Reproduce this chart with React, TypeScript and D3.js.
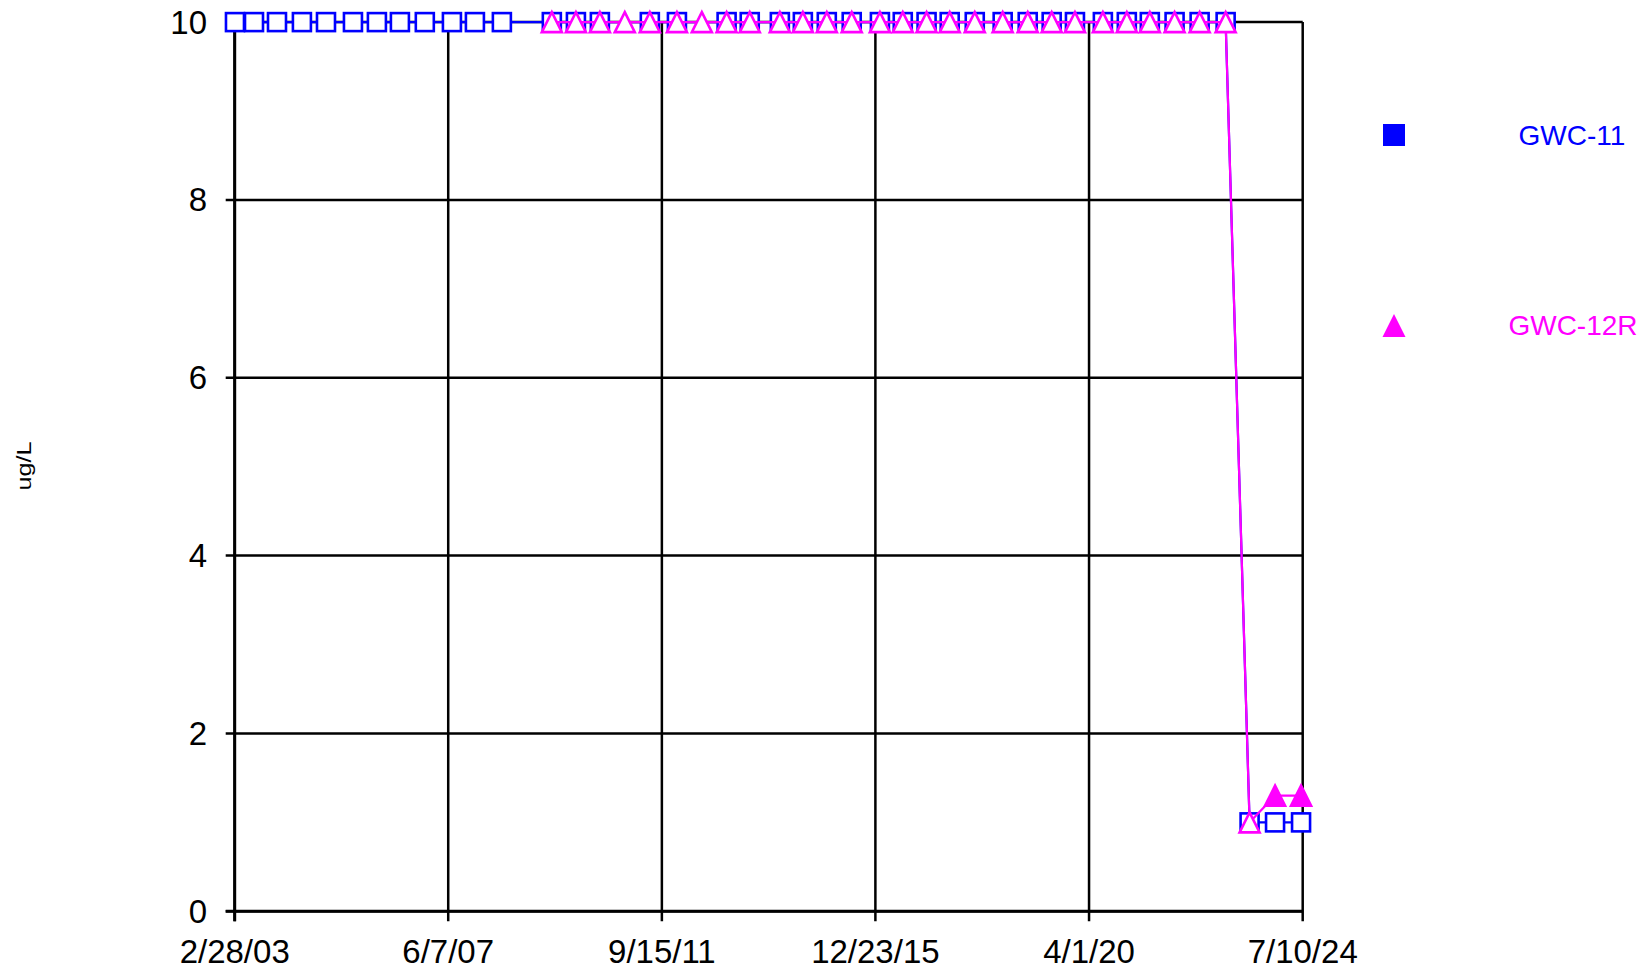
import React from 'react';
import * as d3 from 'd3';

// sampling dates and results (ug/L)
const gwc11Dates = [
  '2003-03-02', '2003-07-19', '2004-01-03', '2004-07-03', '2004-12-26', '2005-07-11',
  '2006-01-02', '2006-06-19', '2006-12-18', '2007-07-04', '2007-12-19', '2008-07-03',
  '2009-07-03', '2009-12-26', '2010-06-19', '2011-06-19', '2012-01-03', '2012-12-31',
  '2013-06-18', '2014-01-24', '2014-07-11', '2015-01-02', '2015-07-03', '2016-01-25',
  '2016-07-10', '2016-12-31', '2017-06-18', '2017-12-18', '2018-07-10', '2019-01-09',
  '2019-07-03', '2019-12-20', '2020-07-11', '2021-01-02', '2021-06-19', '2021-12-17',
  '2022-06-18', '2022-12-25', '2023-06-18', '2023-12-21', '2024-06-28',
];
const gwc11Values = [
  10, 10, 10, 10, 10, 10, 10, 10, 10, 10, 10, 10,
  10, 10, 10, 10, 10, 10, 10, 10, 10, 10, 10, 10,
  10, 10, 10, 10, 10, 10, 10, 10, 10, 10, 10, 10,
  10, 10, 1, 1, 1,
];
const gwc11Detected = gwc11Values.map(() => false);

const gwc12rDates = [
  '2009-07-03', '2009-12-26', '2010-06-19', '2010-12-18', '2011-06-19', '2012-01-03',
  '2012-07-03', '2012-12-31', '2013-06-18', '2014-01-24', '2014-07-11', '2015-01-02',
  '2015-07-03', '2016-01-25', '2016-07-10', '2016-12-31', '2017-06-18', '2017-12-18',
  '2018-07-10', '2019-01-09', '2019-07-03', '2019-12-20', '2020-07-11', '2021-01-02',
  '2021-06-19', '2021-12-17', '2022-06-18', '2022-12-25', '2023-06-18', '2023-12-21',
  '2024-06-28',
];
const gwc12rValues = [
  10, 10, 10, 10, 10, 10, 10, 10, 10, 10, 10, 10, 10, 10, 10, 10,
  10, 10, 10, 10, 10, 10, 10, 10, 10, 10, 10, 10, 1, 1.3, 1.3,
];
const gwc12rDetected = [
  false, false, false, false, false, false, false, false, false, false, false,
  false, false, false, false, false, false, false, false, false, false, false,
  false, false, false, false, false, false, false, true, true,
];

const xTickDates = ['2003-02-28', '2007-06-07', '2011-09-15', '2015-12-23', '2020-04-01', '2024-07-10'];
const xTickLabels = ['2/28/03', '6/7/07', '9/15/11', '12/23/15', '4/1/20', '7/10/24'];
const yTicks = [0, 2, 4, 6, 8, 10];

const W = 1650, H = 973;
const left = 234.7, right = 1302.7, top = 22.1, bottom = 911.3;
const FONT = '"Liberation Sans", Arial, sans-serif';
const BLUE = '#0000ff';
const MAGENTA = '#ff00ff';

const parse = d3.utcParse('%Y-%m-%d');

const x = d3.scaleUtc()
  .domain([parse(xTickDates[0])!, parse(xTickDates[xTickDates.length - 1])!])
  .range([left, right]);
const y = d3.scaleLinear().domain([0, 10]).range([bottom, top]);

const tri = (cx: number, cy: number, r: number) =>
  `M${cx},${cy - r}L${cx + r},${cy + r}L${cx - r},${cy + r}Z`;

function Series(props: { dates: string[]; values: number[]; detected: boolean[]; color: string; shape: 'square' | 'triangle' }) {
  const pts = props.dates.map((d, i) => ({ x: x(parse(d)!), y: y(props.values[i]), det: props.detected[i] }));
  const line = d3.line<{ x: number; y: number }>().x(p => p.x).y(p => p.y);
  return (
    <g>
      <path d={line(pts) || ''} fill="none" stroke={props.color} strokeWidth={2.2} />
      {pts.map((p, i) =>
        props.shape === 'square' ? (
          <rect key={i} x={p.x - 9} y={p.y - 9} width={18} height={18}
            fill={p.det ? props.color : '#fff'} stroke={props.color} strokeWidth={2.6} />
        ) : (
          <path key={i} d={tri(p.x, p.y, 10)}
            fill={p.det ? props.color : '#fff'} stroke={props.color} strokeWidth={2.6} strokeLinejoin="miter" />
        )
      )}
    </g>
  );
}

export default function App() {
  const xt = xTickDates.map(d => x(parse(d)!));
  return (
    <svg width={W} height={H} style={{ position: 'absolute', left: 0, top: 0, background: '#fff' }}
      fontFamily={FONT}>
      <rect width={W} height={H} fill="#fff" />
      {/* grid */}
      {yTicks.map(t => (
        <line key={'gy' + t} x1={left - 9} x2={right} y1={y(t)} y2={y(t)} stroke="#000" strokeWidth={2.5} />
      ))}
      {xt.map((px, i) => (
        <line key={'gx' + i} x1={px} x2={px} y1={top} y2={bottom + 10} stroke="#000" strokeWidth={2.5} />
      ))}
      <line x1={left} x2={left} y1={top} y2={bottom + 10} stroke="#000" strokeWidth={3} />
      <line x1={left - 9} x2={right} y1={bottom} y2={bottom} stroke="#000" strokeWidth={3} />

      {/* tick labels */}
      {yTicks.map(t => (
        <text key={'ly' + t} x={207} y={y(t)} dy="0.35em" textAnchor="end" fontSize={33}>{t}</text>
      ))}
      {xt.map((px, i) => (
        <text key={'lx' + i} x={px} y={963} textAnchor="middle" fontSize={33}>{xTickLabels[i]}</text>
      ))}
      <text transform="translate(31,466) rotate(-90)" textAnchor="middle" fontSize={21}
        textLength={49} lengthAdjust="spacingAndGlyphs">ug/L</text>

      <Series dates={gwc11Dates} values={gwc11Values} detected={gwc11Detected} color={BLUE} shape="square" />
      <Series dates={gwc12rDates} values={gwc12rValues} detected={gwc12rDetected} color={MAGENTA} shape="triangle" />

      {/* legend */}
      <rect x={1383} y={124} width={22} height={22} fill={BLUE} />
      <text x={1572} y={145} textAnchor="middle" fontSize={28} fill={BLUE}>GWC-11</text>
      <path d={tri(1394, 325.5, 11.5)} fill={MAGENTA} />
      <text x={1573} y={335} textAnchor="middle" fontSize={28} fill={MAGENTA}>GWC-12R</text>
    </svg>
  );
}
